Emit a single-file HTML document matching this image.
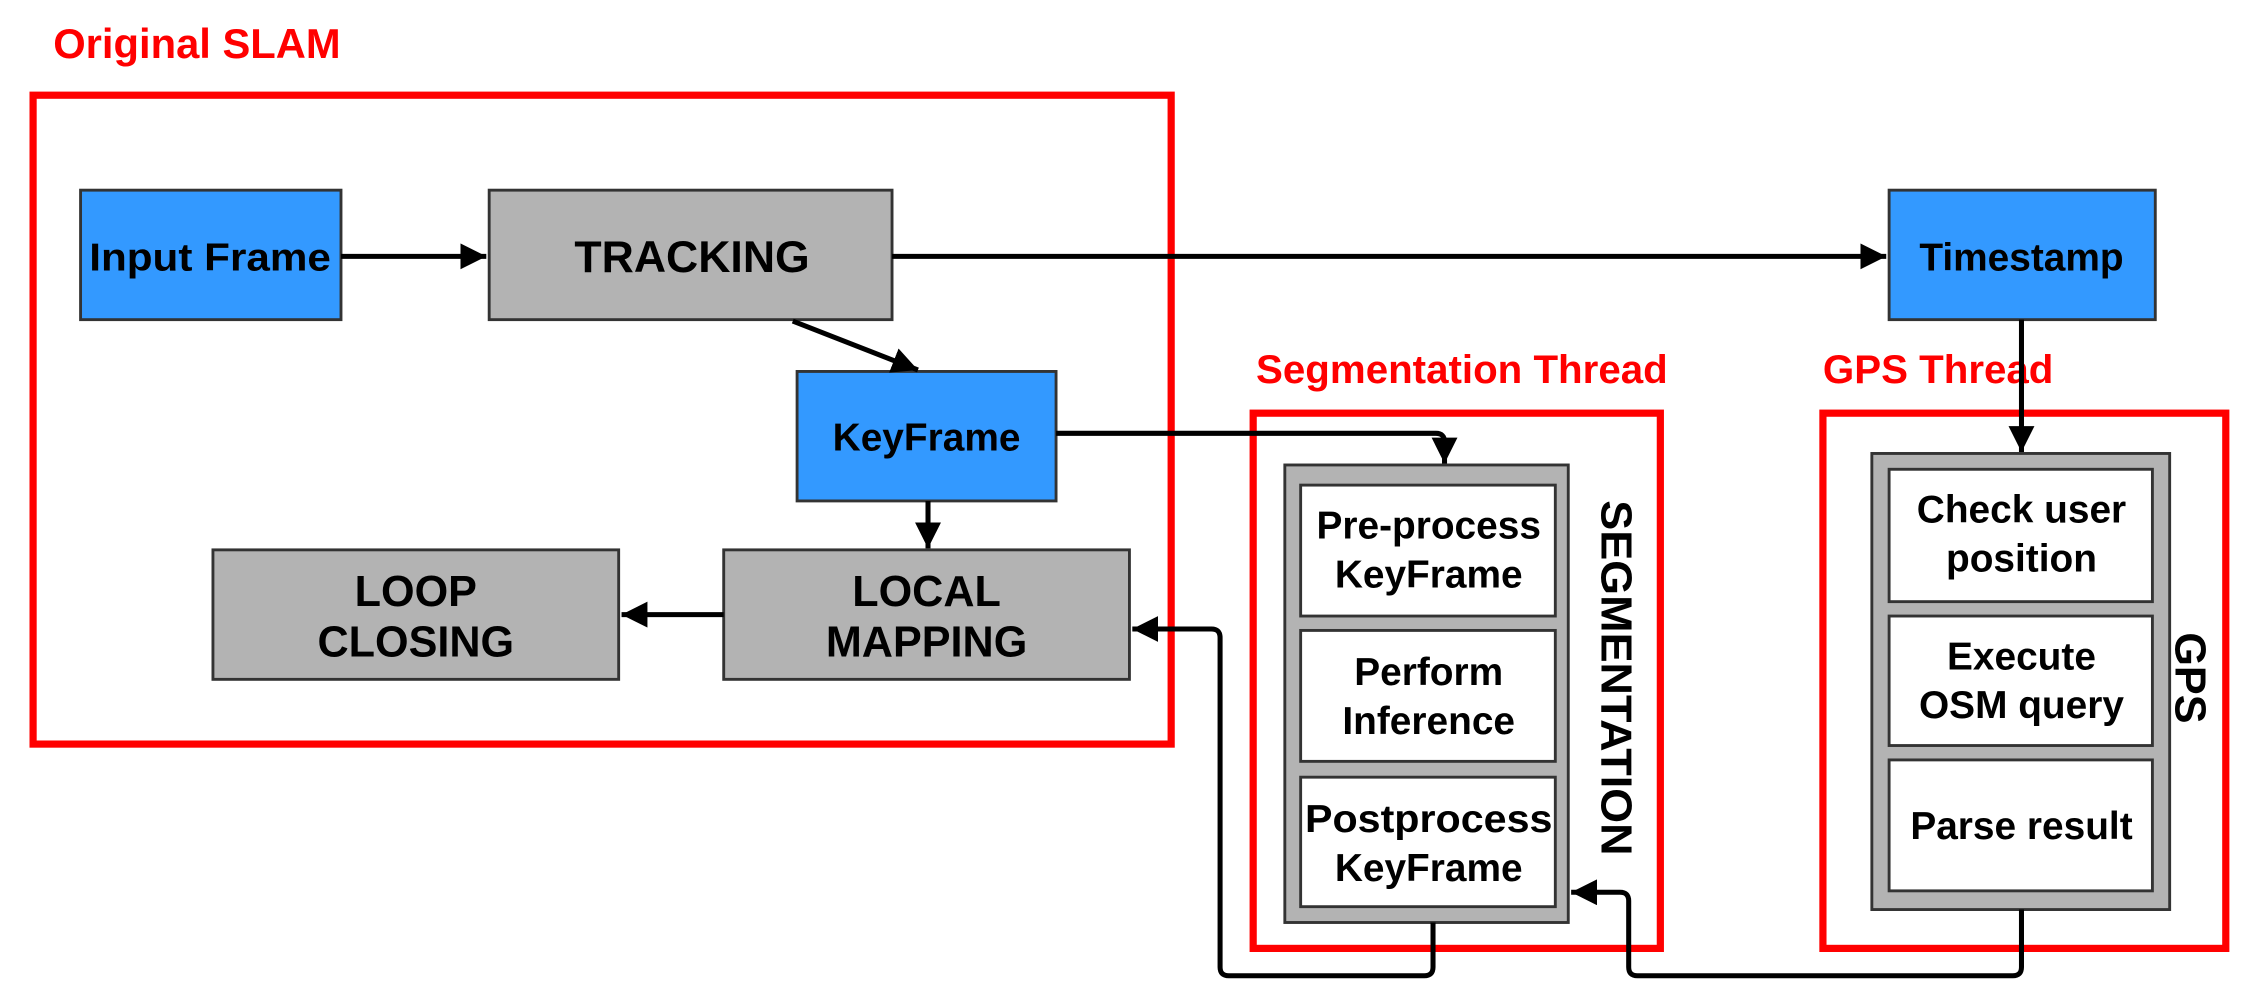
<!DOCTYPE html>
<html><head><meta charset="utf-8"><style>
html,body{margin:0;padding:0;background:#fff;}
svg{display:block;}
text{font-family:"Liberation Sans",Arial,sans-serif;font-weight:bold;}
</style></head><body>
<svg width="2256" height="999" viewBox="0 0 1568 694" xmlns="http://www.w3.org/2000/svg">
<defs>
<marker id="ah" viewBox="0 0 10 10" refX="10" refY="5" markerWidth="18" markerHeight="18" markerUnits="userSpaceOnUse" orient="auto"><path d="M0,0 L10,5 L0,10 z" fill="#000"/></marker>
</defs>
<text x="37" y="40" font-size="29" fill="#ff0000">Original SLAM</text>
<rect x="23" y="66" width="791" height="451" fill="none" stroke="#ff0000" stroke-width="5"/>
<text x="873" y="266" font-size="28" fill="#ff0000">Segmentation Thread</text>
<rect x="871" y="287" width="283" height="372" fill="none" stroke="#ff0000" stroke-width="5"/>
<text x="1267" y="266" font-size="28" fill="#ff0000">GPS Thread</text>
<rect x="1267" y="287" width="280" height="372" fill="none" stroke="#ff0000" stroke-width="5"/>

<g stroke="#333" stroke-width="2">
<rect x="56" y="132" width="181" height="90" fill="#3399ff"/>
<rect x="340" y="132" width="280" height="90" fill="#b3b3b3"/>
<rect x="1313" y="132" width="185" height="90" fill="#3399ff"/>
<rect x="554" y="258" width="180" height="90" fill="#3399ff"/>
<rect x="148" y="382" width="282" height="90" fill="#b3b3b3"/>
<rect x="503" y="382" width="282" height="90" fill="#b3b3b3"/>
<rect x="893" y="323" width="197" height="318" fill="#b3b3b3"/>
<rect x="904" y="337" width="177" height="91" fill="#fff"/>
<rect x="904" y="438" width="177" height="91" fill="#fff"/>
<rect x="904" y="540" width="177" height="90" fill="#fff"/>
<rect x="1301" y="315" width="207" height="317" fill="#b3b3b3"/>
<rect x="1313" y="326" width="183" height="92" fill="#fff"/>
<rect x="1313" y="428" width="183" height="90" fill="#fff"/>
<rect x="1313" y="528" width="183" height="91" fill="#fff"/>
</g>

<g font-size="27" fill="#000" text-anchor="middle">
<text x="146" y="188" textLength="168" lengthAdjust="spacingAndGlyphs">Input Frame</text>
<text x="481" y="189" font-size="31">TRACKING</text>
<text x="1405" y="188">Timestamp</text>
<text x="644" y="313">KeyFrame</text>
<text x="289" y="421" font-size="30">LOOP</text>
<text x="289" y="456" font-size="30">CLOSING</text>
<text x="644" y="421" font-size="30">LOCAL</text>
<text x="644" y="456" font-size="30">MAPPING</text>
<text x="993" y="374">Pre-process</text>
<text x="993" y="408">KeyFrame</text>
<text x="993" y="476">Perform</text>
<text x="993" y="510">Inference</text>
<text x="993" y="578" textLength="172" lengthAdjust="spacingAndGlyphs">Postprocess</text>
<text x="993" y="612">KeyFrame</text>
<text x="1405" y="363">Check user</text>
<text x="1405" y="397">position</text>
<text x="1405" y="465">Execute</text>
<text x="1405" y="499">OSM query</text>
<text x="1405" y="583">Parse result</text>
<text transform="translate(1113,471) rotate(90)" font-size="30" textLength="247" lengthAdjust="spacingAndGlyphs">SEGMENTATION</text>
<text transform="translate(1512,471) rotate(90)" font-size="30">GPS</text>
</g>

<g stroke="#000" stroke-width="3.5" fill="none">
<line x1="237" y1="178" x2="338" y2="178" marker-end="url(#ah)"/>
<line x1="620" y1="178" x2="1311" y2="178" marker-end="url(#ah)"/>
<line x1="551" y1="223" x2="638" y2="257" marker-end="url(#ah)"/>
<path d="M734,301 H998 Q1004,301 1004,307 V322" marker-end="url(#ah)"/>
<line x1="645" y1="348" x2="645" y2="381" marker-end="url(#ah)"/>
<line x1="503" y1="427" x2="432" y2="427" marker-end="url(#ah)"/>
<line x1="1405" y1="222" x2="1405" y2="314" marker-end="url(#ah)"/>
<path d="M996,641 V672 Q996,678 990,678 H854 Q848,678 848,672 V443 Q848,437 842,437 H787" marker-end="url(#ah)"/>
<path d="M1405,632 V672 Q1405,678 1399,678 H1138 Q1132,678 1132,672 V626 Q1132,620 1126,620 H1092" marker-end="url(#ah)"/>
</g>
</svg>
</body></html>
